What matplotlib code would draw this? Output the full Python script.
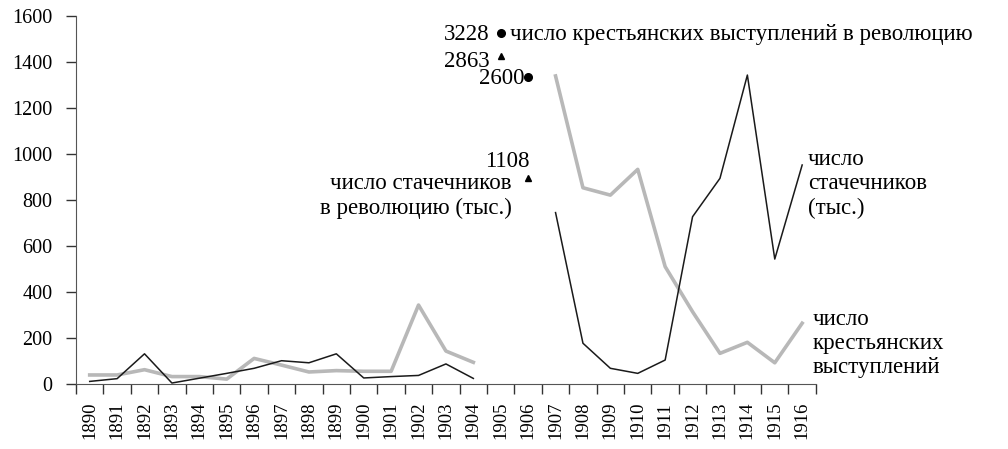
import numpy as np
import matplotlib
matplotlib.use('Agg')
import matplotlib.pyplot as plt

plt.rcParams['font.family'] = ['Liberation Serif', 'DejaVu Serif']

years = list(range(1890, 1917))
# strikers, thousands (1905/1906 shown separately)
strikers = [10, 22, 130, 3, 24, 45, 67, 100, 91, 130, 25, 31, 36, 86, 23,
            np.nan, np.nan,
            744, 176, 67, 45, 103, 726, 893, 1342, 542, 951]
# peasant uprisings
peasants = [38, 38, 61, 31, 31, 20, 110, 81, 51, 57, 54, 54, 342, 142, 93,
            np.nan, np.nan,
            1338, 852, 820, 932, 509, 313, 132, 180, 91, 263]

# revolution-year values, drawn off-scale near the top
rev_peasant_years = [1905, 1906]
rev_peasant_vals = ['3228', '2600']
rev_peasant_pos = [1525, 1333]
rev_strike_years = [1905, 1906]
rev_strike_vals = ['2863', '1108']
rev_strike_pos = [1424, 895]

fig = plt.figure(figsize=(10.08, 4.49), dpi=100)
ax = fig.add_axes([0.0754, 0.1454, 0.734, 0.8196])

x = np.arange(len(years))
ax.plot(x, peasants, color='#b8b8b8', lw=2.6)
ax.plot(x, strikers, color='#1a1a1a', lw=1.1)

ix = {y: i for i, y in enumerate(years)}
for yr, pos in zip(rev_peasant_years, rev_peasant_pos):
    ax.plot(ix[yr], pos, 'o', color='black', ms=5.5, clip_on=False)
for yr, pos in zip(rev_strike_years, rev_strike_pos):
    ax.plot(ix[yr], pos, '^', color='black', ms=4.5, clip_on=False)

fs = 16.5
ax.text(ix[1905] - 0.4, rev_peasant_pos[0] - 5, rev_peasant_vals[0], ha='right', va='center', fontsize=fs)
ax.text(ix[1905] + 0.35, rev_peasant_pos[0] - 5, 'число крестьянских выступлений в революцию',
        ha='left', va='center', fontsize=fs)
ax.text(ix[1905] - 0.4, rev_strike_pos[0] - 25, rev_strike_vals[0], ha='right', va='center', fontsize=fs)
ax.text(ix[1906] - 0.15, rev_peasant_pos[1] - 5, rev_peasant_vals[1], ha='right', va='center', fontsize=fs)
ax.text(ix[1906] + 0.05, rev_strike_pos[1] + 25, rev_strike_vals[1], ha='right', va='bottom', fontsize=fs)
ax.text(ix[1906] - 0.6, rev_strike_pos[1] + 20, 'число стачечников\nв революцию (тыс.)',
        ha='right', va='top', fontsize=fs, linespacing=1.2)

ax.text(ix[1916] + 0.2, 1020, 'число\nстачечников\n(тыс.)', ha='left', va='top',
        fontsize=fs, linespacing=1.2)
ax.text(ix[1916] + 0.4, 325, 'число\nкрестьянских\nвыступлений', ha='left', va='top',
        fontsize=fs, linespacing=1.2)

ax.set_xlim(-0.5, len(years) - 0.5)
ax.set_ylim(0, 1600)
ax.set_yticks(range(0, 1601, 200))
ax.set_xticks(np.arange(-0.5, len(years), 1.0))
ax.set_xticklabels([])
ax.set_xticks(x, minor=True)
ax.set_xticklabels([str(y) for y in years], minor=True, rotation=90, fontsize=13.5)
ax.tick_params(axis='x', which='major', length=7, width=1, color='#333333')
ax.tick_params(axis='x', which='minor', length=0, pad=13)
ax.tick_params(axis='y', length=7, width=1, color='#333333', labelsize=14.5, pad=10)

for s in ['top', 'right']:
    ax.spines[s].set_visible(False)
ax.spines['left'].set_color('#555555')
ax.spines['bottom'].set_color('#555555')

fig.savefig('out.png', dpi=100)
